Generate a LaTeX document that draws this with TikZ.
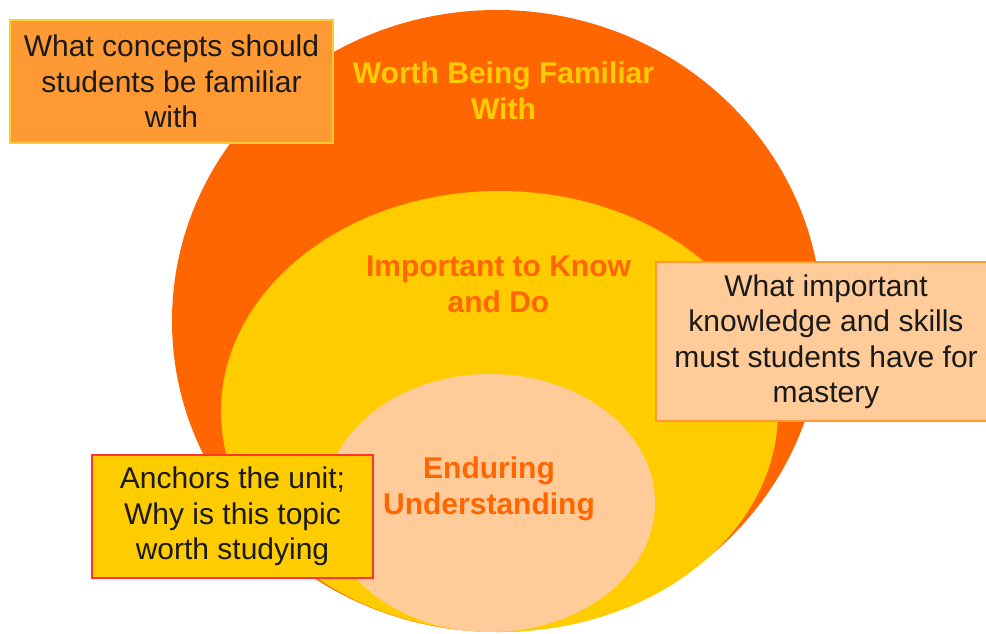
\documentclass[tikz,border=0pt]{standalone}
\usepackage{fontspec}
\setmainfont{Liberation Sans}
\definecolor{outerorange}{HTML}{FF6600}
\definecolor{midyellow}{HTML}{FFCC00}
\definecolor{corepeach}{HTML}{FFCC99}
\definecolor{boxorange}{HTML}{FF9933}
\definecolor{boxedgeyellow}{HTML}{FFCC33}
\definecolor{boxedgered}{HTML}{FF3333}
\definecolor{textblack}{HTML}{1A1A1A}
\begin{document}
\begin{tikzpicture}[x=1pt,y=-1pt,
  ringlabel/.style={font=\fontsize{30}{35.5}\selectfont\bfseries, align=center, inner sep=0pt},
  notebox/.style={font=\fontsize{30}{35.5}\selectfont, text=textblack, align=center,
    inner sep=0pt, line width=1.5pt, rectangle}]
  % page frame
  \useasboundingbox (0,0) rectangle (986,633);
  \fill[white] (0,0) rectangle (986,633);

  % nested ellipses
  \fill[outerorange] (497,321) ellipse [x radius=325pt, y radius=311pt];
  \fill[midyellow] (499.5,411.5) ellipse [x radius=278.5pt, y radius=220.5pt];
  \fill[corepeach] (490,503) ellipse [x radius=165pt, y radius=129pt];

  % ring labels
  \node[ringlabel, text=midyellow] (worth) at (503.5,90.75) {Worth Being Familiar\\With};
  \node[ringlabel, text=outerorange] (important) at (498.5,284.25) {Important to Know\\and Do};
  \node[ringlabel, text=outerorange] (enduring) at (489,488.9) {Enduring\\Understanding};

  % note boxes
  \node[notebox, fill=boxorange, draw=boxedgeyellow, minimum width=323pt, minimum height=123pt]
    (familiar) at (171.5,81.5) {What concepts should\\students be familiar\\with};
  \node[notebox, fill=corepeach, draw=boxorange, minimum width=340pt, minimum height=159pt]
    (mastery) at (826,341.5) {What important\\knowledge and skills\\must students have for\\mastery};
  \node[notebox, fill=midyellow, draw=boxedgered, minimum width=281pt, minimum height=123pt]
    (anchors) at (232.5,516.5) {Anchors the unit;\\Why is this topic\\worth studying};
\end{tikzpicture}
\end{document}
